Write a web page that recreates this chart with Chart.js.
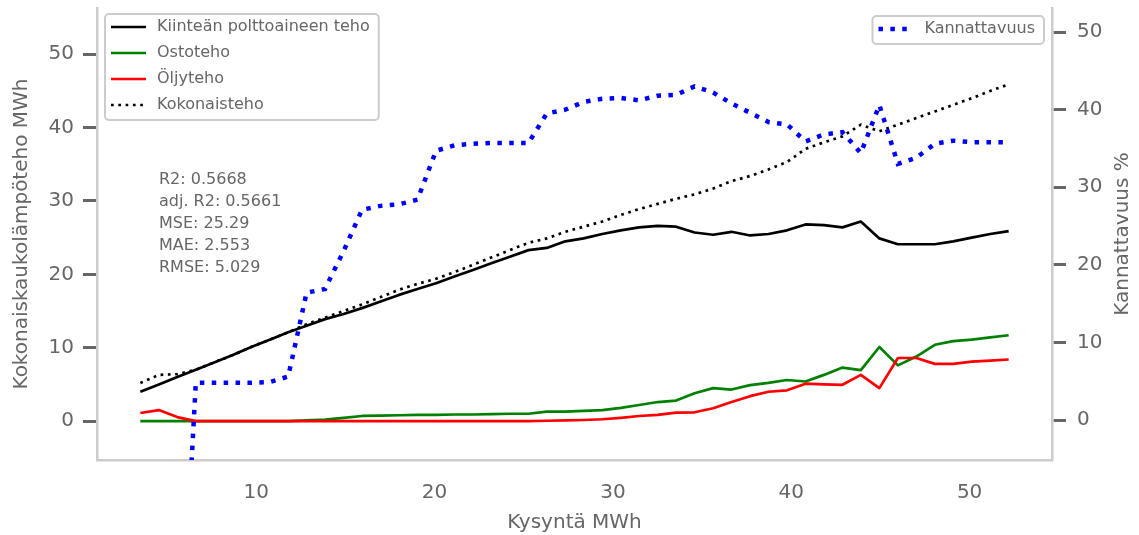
<!DOCTYPE html>
<html lang="fi">
<head>
<meta charset="utf-8">
<title>Kysyntä ja teho</title>
<script src="https://cdn.jsdelivr.net/npm/chart.js@4.4.1/dist/chart.umd.min.js"></script>
<style>
  html, body { margin: 0; padding: 0; background: #fff; }
  #wrap { width: 1139px; height: 535px; }
</style>
</head>
<body>
<div id="wrap"><canvas id="chart" width="1139" height="535"></canvas></div>
<script>
// ====================================================
// 1) DATA (luettu kuvasta)
// ====================================================
const kysynta = [3.50, 4.54, 5.57, 6.61, 7.64, 8.68, 9.72, 10.75, 11.79, 12.82, 13.86, 14.90,
  15.93, 16.97, 18.00, 19.04, 20.08, 21.11, 22.15, 23.18, 24.22, 25.26, 26.29, 27.33,
  28.36, 29.40, 30.44, 31.47, 32.51, 33.54, 34.58, 35.62, 36.65, 37.69, 38.72, 39.76,
  40.80, 41.83, 42.87, 43.90, 44.94, 45.98, 47.01, 48.05, 49.08, 50.12, 51.16, 52.19];

const kiinteaTeho = [4.0, 5.0, 6.0, 7.0, 8.0, 9.0, 10.1, 11.1, 12.1, 13.0, 13.9, 14.6, 15.4, 16.3, 17.2, 18.0,
  18.8, 19.7, 20.6, 21.5, 22.4, 23.3, 23.6, 24.5, 24.9, 25.5, 26.0, 26.4, 26.6, 26.5, 25.7, 25.4,
  25.8, 25.3, 25.5, 26.0, 26.8, 26.7, 26.4, 27.2, 24.9, 24.1, 24.1, 24.1, 24.5, 25.0, 25.5, 25.9];

const ostoteho = [0, 0, 0, 0, 0, 0, 0, 0, 0, 0.1, 0.2, 0.45, 0.7, 0.75, 0.8, 0.85,
  0.85, 0.9, 0.9, 0.95, 1.0, 1.0, 1.3, 1.3, 1.4, 1.5, 1.8, 2.2, 2.6, 2.8, 3.8, 4.5,
  4.3, 4.9, 5.2, 5.6, 5.4, 6.3, 7.3, 6.95, 10.1, 7.6, 8.8, 10.4, 10.9, 11.1, 11.4, 11.7];

const oljyteho = [1.1, 1.5, 0.55, 0, 0, 0, 0, 0, 0, 0, 0, 0, 0, 0, 0, 0,
  0, 0, 0, 0, 0, 0, 0.05, 0.1, 0.15, 0.25, 0.45, 0.7, 0.85, 1.15, 1.2, 1.75,
  2.6, 3.4, 4.0, 4.2, 5.1, 5.0, 4.95, 6.3, 4.5, 8.6, 8.6, 7.8, 7.8, 8.1, 8.25, 8.4];

const kokonaisteho = [5.2, 6.3, 6.4, 7.0, 8.0, 9.0, 10.1, 11.1, 12.1, 13.2, 14.1, 15.0, 15.9, 16.9, 17.9, 18.7,
  19.4, 20.3, 21.3, 22.3, 23.3, 24.3, 24.9, 25.8, 26.5, 27.2, 28.1, 28.9, 29.6, 30.3, 30.9, 31.7,
  32.7, 33.4, 34.3, 35.3, 37.1, 38.0, 38.8, 40.4, 39.5, 40.4, 41.3, 42.2, 43.1, 44.0, 45.0, 45.9];

// kolme ensimmäistä ovat kuvan alareunan alapuolella
const kannattavuus = [-60, -50, -40, 4.8, 4.8, 4.8, 4.8, 4.9, 5.6, 16.4, 16.9, 21.8, 27.1, 27.6, 27.8, 28.4,
  34.7, 35.4, 35.6, 35.7, 35.7, 35.7, 39.5, 40.0, 41.0, 41.4, 41.5, 41.2, 41.8, 41.9, 43.0, 42.2,
  40.8, 39.6, 38.4, 38.1, 35.9, 36.8, 37.1, 34.4, 40.6, 33.0, 33.8, 35.6, 36.0, 35.8, 35.8, 35.8];

const xTicks = [10, 20, 30, 40, 50];
const tehoTicks = [0, 10, 20, 30, 40, 50];
const kannTicks = [0, 10, 20, 30, 40, 50];

const statLines = ["R2: 0.5668", "adj. R2: 0.5661", "MSE: 25.29", "MAE: 2.553", "RMSE: 5.029"];


// ====================================================
// 2) TYYLIT
// ====================================================
const FONT = "'DejaVu Sans', sans-serif";
const TXT = "#666666";
const SPINE = "#cccccc";

const pts = arr => kysynta.map((x, i) => ({ x: x, y: arr[i] }));
const fixTicks = list => scale => { scale.ticks = list.map(v => ({ value: v })); };


// ====================================================
// 3) LISÄPIIRROT: selitteet, tunnusluvut, oikea otsikko
// ====================================================
function drawLegend(ctx, sets, x, y, alignRight) {
  ctx.font = "16px " + FONT;
  const tw = Math.max(...sets.map(d => ctx.measureText(d.label).width));
  const w = 52 + tw + 9;
  const h = sets.length * 26 + 2;
  if (alignRight) x = x - w;

  ctx.fillStyle = "rgba(255,255,255,0.8)";
  ctx.strokeStyle = SPINE;
  ctx.lineWidth = 2;
  ctx.beginPath();
  ctx.roundRect(x, y, w, h, 4);
  ctx.fill();
  ctx.stroke();

  sets.forEach((d, i) => {
    const cy = y + 13 + i * 26;
    ctx.save();
    ctx.strokeStyle = d.borderColor;
    ctx.lineWidth = d.borderWidth;
    ctx.setLineDash(d.borderDash || []);
    ctx.beginPath();
    ctx.moveTo(x + 6, cy);
    ctx.lineTo(x + 41, cy);
    ctx.stroke();
    ctx.restore();

    ctx.fillStyle = TXT;
    ctx.textAlign = "left";
    ctx.textBaseline = "middle";
    ctx.fillText(d.label, x + 52, cy);
  });
}

const extras = {
  id: "extras",
  afterDraw(chart) {
    const { ctx, chartArea: a } = chart;
    ctx.save();

    // tunnusluvut
    ctx.font = "16px " + FONT;
    ctx.fillStyle = TXT;
    ctx.textAlign = "left";
    ctx.textBaseline = "middle";
    statLines.forEach((t, i) => ctx.fillText(t, a.left + 62, a.top + 172 + i * 22));

    // oikean akselin otsikko (luetaan alhaalta ylös)
    ctx.save();
    ctx.translate(chart.width - 16, (a.top + a.bottom) / 2);
    ctx.rotate(-Math.PI / 2);
    ctx.font = "20px " + FONT;
    ctx.textAlign = "center";
    ctx.fillText("Kannattavuus %", 0, 0);
    ctx.restore();

    const sets = chart.data.datasets;
    drawLegend(ctx, sets.filter(d => d.yAxisID === "y"), a.left + 8, a.top + 6, false);
    drawLegend(ctx, sets.filter(d => d.yAxisID === "y1"), a.right - 8, a.top + 8, true);

    ctx.restore();
  }
};


// ====================================================
// 4) KAAVIO
// ====================================================
const yAxisBase = {
  grid: { display: true, drawOnChartArea: false, drawTicks: true, tickLength: 14, tickWidth: 3, tickColor: "#666666" },
  border: { display: true, color: SPINE, width: 2.5 },
  ticks: { color: TXT, font: { family: FONT, size: 20 }, padding: 9 }
};

// kiinteä akselin leveys, ei ylimääräistä reunaa tikkien takia
const fitY = w => s => { s.width = w; s.paddingTop = 0; s.paddingBottom = 0; };

new Chart(document.getElementById("chart"), {
  type: "line",
  data: {
    datasets: [
      {
        label: "Kiinteän polttoaineen teho",
        data: pts(kiinteaTeho),
        yAxisID: "y",
        borderColor: "#000000",
        borderWidth: 2.7,
        borderJoinStyle: "round",
        order: 4
      },
      {
        label: "Ostoteho",
        data: pts(ostoteho),
        yAxisID: "y",
        borderColor: "#008000",
        borderWidth: 2.7,
        borderJoinStyle: "round",
        order: 3
      },
      {
        label: "Öljyteho",
        data: pts(oljyteho),
        yAxisID: "y",
        borderColor: "#ff0000",
        borderWidth: 2.7,
        borderJoinStyle: "round",
        order: 2
      },
      {
        label: "Kokonaisteho",
        data: pts(kokonaisteho),
        yAxisID: "y",
        borderColor: "#000000",
        borderWidth: 2.7,
        borderDash: [2.7, 4.6],
        order: 1
      },
      {
        label: "Kannattavuus",
        data: pts(kannattavuus),
        yAxisID: "y1",
        borderColor: "#0000ff",
        borderWidth: 4.5,
        borderDash: [4.5, 7.4],
        clip: 0,
        order: 0
      }
    ]
  },
  options: {
    responsive: false,
    animation: false,
    events: [],
    layout: { padding: { top: 8, left: 0, right: 0, bottom: 0 } },
    elements: { point: { radius: 0 }, line: { tension: 0, fill: false } },
    plugins: { legend: { display: false }, tooltip: { enabled: false } },
    scales: {
      x: {
        type: "linear",
        min: 1.07,
        max: 54.62,
        afterBuildTicks: fixTicks(xTicks),
        afterFit: s => { s.height = 75; s.paddingLeft = 0; s.paddingRight = 0; },
        grid: { display: false, drawTicks: false },
        border: { display: true, color: SPINE, width: 2.5 },
        ticks: { color: TXT, font: { family: FONT, size: 20 }, padding: 21 },
        title: { display: true, text: "Kysyntä MWh", color: TXT, font: { family: FONT, size: 20 }, padding: { top: 0, bottom: 0 } }
      },
      y: {
        ...yAxisBase,
        position: "left",
        min: -5.3,
        max: 56.3,
        afterBuildTicks: fixTicks(tehoTicks),
        afterFit: fitY(97),
        title: { display: true, text: "Kokonaiskaukolämpöteho MWh", color: TXT, font: { family: FONT, size: 20 }, padding: { top: 10, bottom: 0 } }
      },
      y1: {
        ...yAxisBase,
        ticks: { color: TXT, font: { family: FONT, size: 20 }, padding: 11 },
        position: "right",
        min: -5.15,
        max: 53.1,
        afterBuildTicks: fixTicks(kannTicks),
        afterFit: fitY(87)
      }
    }
  },
  plugins: [extras]
});
</script>
</body>
</html>
